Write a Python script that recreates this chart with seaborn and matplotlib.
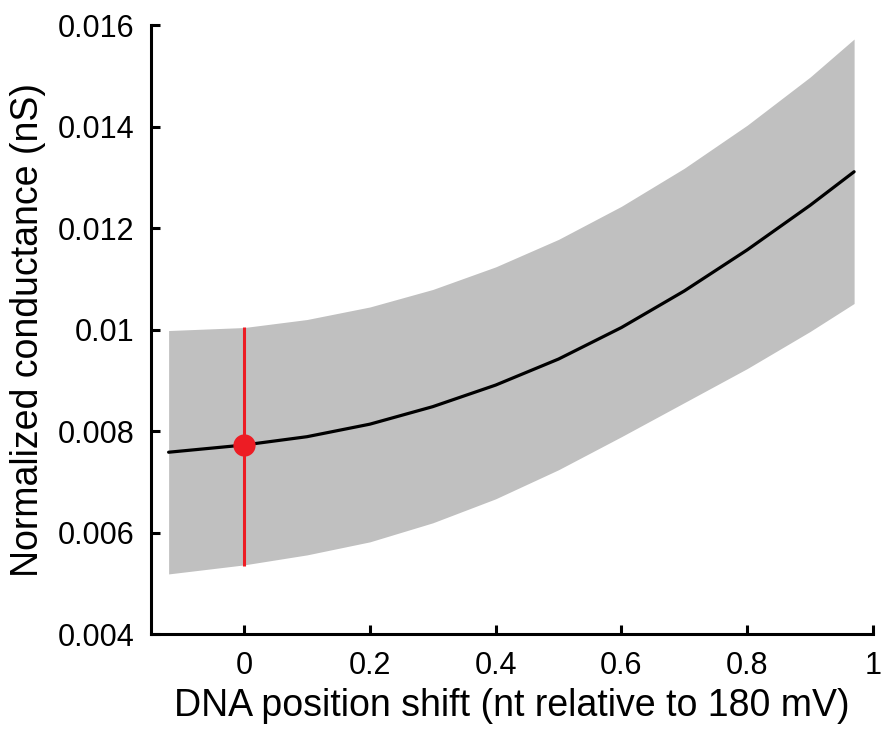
import matplotlib
matplotlib.use("Agg")
import matplotlib.pyplot as plt
import seaborn as sns
import pandas as pd

# Fitted conductance vs. DNA position shift, with confidence band
shift = [-0.12, 0.0, 0.1, 0.2, 0.3, 0.4, 0.5, 0.6, 0.7, 0.8, 0.9, 0.97]
fit_mean = [0.007582, 0.007724, 0.007888, 0.008135, 0.008480, 0.008905,
            0.009418, 0.010039, 0.010760, 0.011569, 0.012447, 0.013109]
band_upper = [0.009980, 0.010039, 0.010197, 0.010444, 0.010789, 0.011234,
              0.011776, 0.012428, 0.013178, 0.014026, 0.014974, 0.015724]
band_lower = [0.005184, 0.005362, 0.005559, 0.005816, 0.006191, 0.006664,
              0.007237, 0.007888, 0.008559, 0.009230, 0.009961, 0.010513]

# Measured point at the 180 mV reference
point_x = [0.0]
point_y = [0.007724]
point_lo = [0.005342]
point_hi = [0.010059]

x_ticks = [0, 0.2, 0.4, 0.6, 0.8, 1.0]
x_tick_labels = ["0", "0.2", "0.4", "0.6", "0.8", "1"]
y_ticks = [0.004, 0.006, 0.008, 0.010, 0.012, 0.014, 0.016]
y_tick_labels = ["0.004", "0.006", "0.008", "0.01", "0.012", "0.014", "0.016"]

sns.set_style("ticks")
plt.rcParams["font.family"] = ["Liberation Sans", "DejaVu Sans"]
plt.rcParams["text.color"] = "black"
plt.rcParams["axes.labelcolor"] = "black"

fig = plt.figure(figsize=(8.81, 7.38), dpi=100)
ax = fig.add_axes([0.1714, 0.1409, 0.8195, 0.8252])

df = pd.DataFrame({"shift": shift, "mean": fit_mean,
                   "upper": band_upper, "lower": band_lower})

ax.fill_between(df["shift"], df["lower"], df["upper"],
                color="#c0c0c0", linewidth=0, zorder=1)
sns.lineplot(data=df, x="shift", y="mean", color="black",
             linewidth=2.3, ax=ax, zorder=3)

err_lo = [y - lo for y, lo in zip(point_y, point_lo)]
err_hi = [hi - y for y, hi in zip(point_y, point_hi)]
ax.errorbar(point_x, point_y, yerr=[err_lo, err_hi], fmt="o",
            color="#ed1c24", ecolor="#ed1c24", elinewidth=2.2,
            markersize=15, capsize=0, zorder=4)

ax.set_xlim(-0.148, 1.0)
ax.set_ylim(0.004, 0.016)
ax.set_xticks(x_ticks)
ax.set_xticklabels(x_tick_labels)
ax.set_yticks(y_ticks)
ax.set_yticklabels(y_tick_labels)

for side in ("top", "right"):
    ax.spines[side].set_visible(False)
for side in ("left", "bottom"):
    ax.spines[side].set_linewidth(2.2)
    ax.spines[side].set_color("black")

ax.tick_params(direction="in", length=6.5, width=2.2, labelsize=22,
               pad=12, colors="black", labelcolor="black")
ax.set_xlabel("DNA position shift (nt relative to 180 mV)", fontsize=27,
              labelpad=5, color="black")
ax.set_ylabel("Normalized conductance (nS)", fontsize=27, labelpad=8,
              color="black")

fig.savefig("out.png", dpi=100)
